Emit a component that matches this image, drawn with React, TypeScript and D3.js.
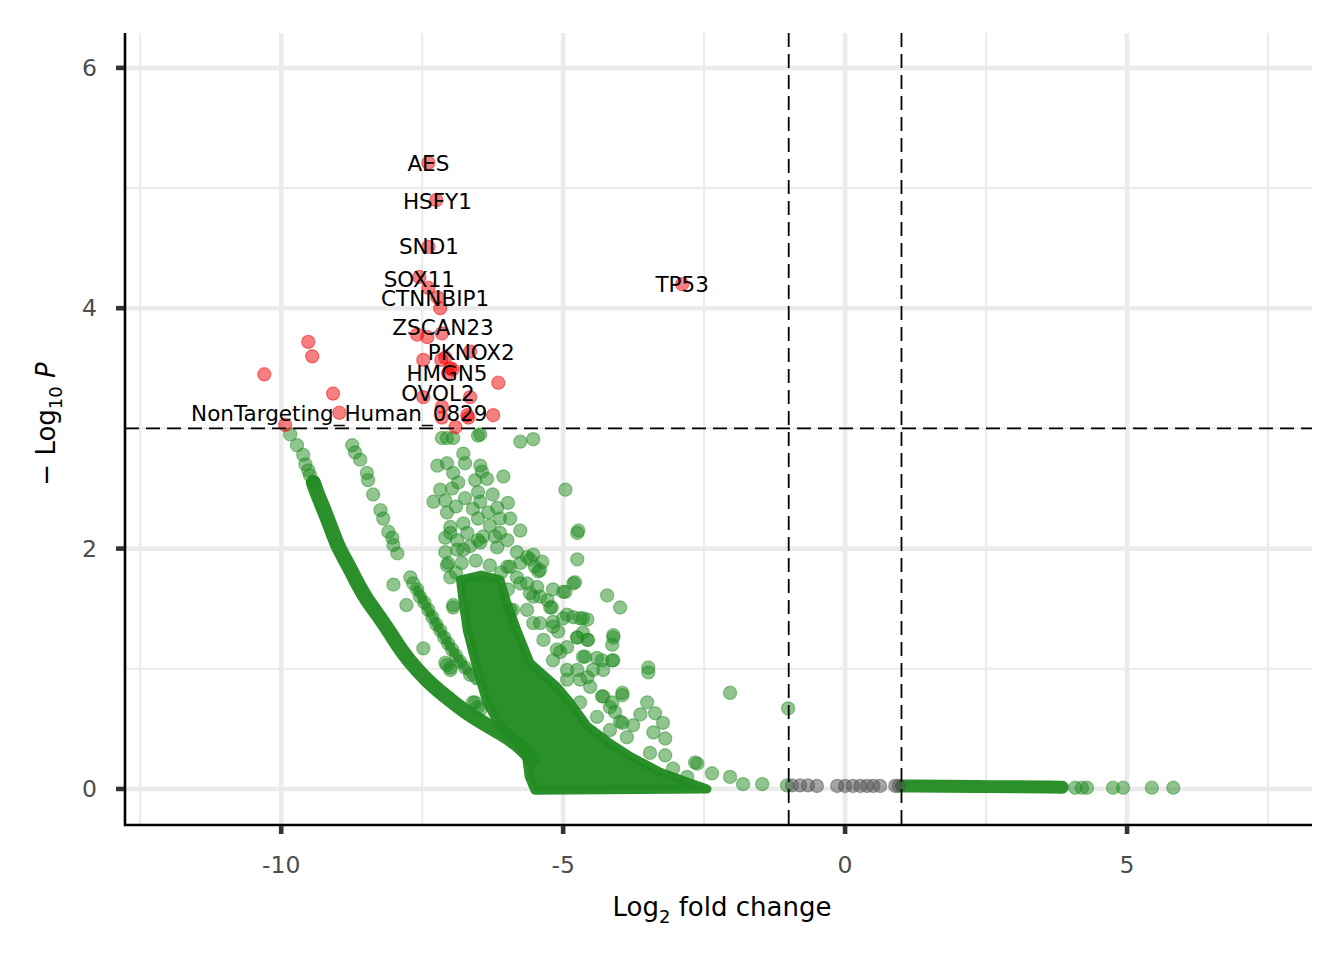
import React from "react";
import * as d3 from "d3";

// axis limits and ticks (log2 fold change / -log10 p)
const xLimits = [-12.77, 8.28];
const yLimits = [-0.3, 6.29];
const xTicks = [-10, -5, 0, 5];
const xMinor = [-12.5, -7.5, -2.5, 2.5, 7.5];
const yTicks = [0, 2, 4, 6];
const yMinor = [1, 3, 5];
const fcCutoff = 1;
const pCutoff = 3;

// significant (p and fold change) - red
const sigPoints: [number, number][] = [
  [-7.39, 5.21], [-7.25, 4.9], [-7.39, 4.51], [-7.55, 4.26], [-7.39, 4.17],
  [-7.23, 4.09], [-7.18, 4.0], [-7.59, 3.78], [-7.41, 3.76], [-7.15, 3.79],
  [-6.65, 3.64], [-7.48, 3.57], [-7.16, 3.57], [-7.09, 3.59], [-7.0, 3.5],
  [-7.04, 3.46], [-6.96, 3.49], [-6.15, 3.38], [-7.48, 3.26], [-6.65, 3.26],
  [-7.15, 3.18], [-6.7, 3.11], [-6.68, 3.09], [-6.24, 3.11], [-7.15, 3.09],
  [-6.91, 3.01], [-9.52, 3.72], [-9.45, 3.6], [-10.3, 3.45], [-9.08, 3.29],
  [-8.97, 3.13], [-9.93, 3.03], [-2.89, 4.2],
];

// labelled genes (text position)
const labels = [
  { gene: "AES", x: -7.39, y: 5.2 },
  { gene: "HSFY1", x: -7.23, y: 4.89 },
  { gene: "SND1", x: -7.38, y: 4.51 },
  { gene: "SOX11", x: -7.55, y: 4.24 },
  { gene: "CTNNBIP1", x: -7.27, y: 4.08 },
  { gene: "ZSCAN23", x: -7.13, y: 3.84 },
  { gene: "PKNOX2", x: -6.63, y: 3.63 },
  { gene: "HMGN5", x: -7.06, y: 3.46 },
  { gene: "OVOL2", x: -7.22, y: 3.29 },
  { gene: "NonTargeting_Human_0829", x: -8.97, y: 3.12 },
  { gene: "TP53", x: -2.89, y: 4.2 },
];

// fold change only - green
const fcPoints: [number, number][] = [
  // top of the outer curve
  [-9.84, 2.95], [-9.72, 2.86], [-9.61, 2.78], [-9.57, 2.7], [-9.52, 2.65],
  [-9.49, 2.61], [-9.43, 2.55],
  // second streak
  [-8.74, 2.86], [-8.69, 2.8], [-8.6, 2.74], [-8.48, 2.63], [-8.46, 2.57],
  [-8.37, 2.45], [-8.24, 2.32], [-8.19, 2.25], [-8.1, 2.14], [-8.03, 2.09],
  [-8.01, 2.03], [-7.94, 1.96], [-7.71, 1.76], [-7.66, 1.71], [-7.59, 1.66],
  [-7.54, 1.6], [-7.46, 1.55], [-7.39, 1.49], [-7.32, 1.43], [-7.25, 1.37],
  [-7.18, 1.32], [-7.11, 1.26], [-7.04, 1.21], [-6.97, 1.16], [-6.9, 1.11],
  [-6.83, 1.06], [-6.74, 1.01], [-6.65, 0.95],
  [-8.01, 1.7], [-7.78, 1.53], [-7.48, 1.17], [-7.06, 1.03], [-7.0, 1.01],
  [-6.56, 0.72], [-6.52, 0.68], [-7.09, 1.05], [-7.0, 0.99], [-6.6, 0.72],
  [-6.47, 0.66],
  // scatter round the dense core
  [-7.15, 2.92], [-7.06, 2.92], [-6.95, 2.92], [-6.51, 2.94], [-6.47, 2.95],
  [-5.76, 2.89], [-5.53, 2.91], [-6.77, 2.79], [-6.74, 2.71], [-7.23, 2.69],
  [-7.06, 2.71], [-6.47, 2.69], [-6.95, 2.63], [-6.44, 2.64], [-6.56, 2.57],
  [-6.35, 2.58], [-6.06, 2.6], [-7.18, 2.49], [-6.97, 2.5], [-6.86, 2.55],
  [-7.3, 2.39], [-7.09, 2.4], [-6.74, 2.42], [-6.51, 2.47], [-6.47, 2.39],
  [-4.96, 2.49], [-6.17, 2.34], [-5.98, 2.38], [-5.94, 2.25], [-7.06, 2.3],
  [-6.51, 2.25], [-6.33, 2.3], [-7.0, 2.18], [-6.77, 2.21], [-6.12, 2.25],
  [-5.76, 2.15], [-4.73, 2.15], [-7.09, 2.09], [-6.88, 2.07], [-6.51, 2.07],
  [-6.21, 2.1], [-7.09, 1.97], [-6.88, 1.99], [-6.17, 2.01], [-5.82, 1.97],
  [-5.64, 1.93], [-5.53, 1.95], [-5.37, 1.89], [-4.75, 1.91], [-7.06, 1.86],
  [-5.99, 1.85], [-5.76, 1.88], [-5.5, 1.85], [-5.44, 1.81], [-7.0, 1.76],
  [-5.82, 1.76], [-5.64, 1.71], [-5.46, 1.68], [-5.18, 1.66], [-4.96, 1.64],
  [-4.79, 1.72], [-4.82, 1.71], [-5.98, 1.66], [-5.53, 1.6], [-5.28, 1.57],
  [-5.2, 1.51], [-4.22, 1.61], [-3.99, 1.51], [-6.95, 1.53], [-5.94, 1.49],
  [-5.41, 1.38], [-5.18, 1.39], [-4.93, 1.45], [-4.7, 1.42], [-4.57, 1.41],
  [-5.09, 1.31], [-4.75, 1.26], [-4.65, 1.3], [-4.56, 1.24], [-4.11, 1.26],
  [-4.13, 1.2], [-4.93, 1.18], [-5.05, 1.14], [-4.61, 1.1], [-4.31, 1.07],
  [-4.11, 1.07], [-3.49, 1.01], [-3.49, 0.97], [-4.93, 0.99], [-4.47, 0.99],
  [-4.29, 0.99], [-4.7, 0.91], [-4.52, 0.85], [-4.31, 0.77], [-3.95, 0.78],
  [-4.17, 0.68], [-3.51, 0.72], [-3.37, 0.63], [-3.63, 0.62], [-3.23, 0.55],
  [-3.76, 0.53], [-3.99, 0.56], [-3.4, 0.47], [-3.19, 0.42], [-3.46, 0.3],
  [-3.19, 0.28], [-3.87, 0.43], [-3.05, 0.17], [-2.66, 0.22], [-2.8, 0.1],
  [-7.04, 1.88], [-6.95, 1.51], [-6.77, 1.99], [-6.47, 2.05], [-5.94, 1.85],
  [-5.59, 1.91], [-5.41, 1.82], [-5.76, 1.71], [-5.59, 1.63], [-5.41, 1.6],
  [-5.23, 1.51], [-5.89, 1.49], [-5.64, 1.49], [-5.53, 1.38], [-5.0, 1.64],
  [-4.75, 2.13], [-5.0, 1.42], [-4.82, 1.43], [-4.65, 1.42], [-5.18, 1.35],
  [-5.35, 1.24], [-5.11, 1.16], [-4.75, 1.26], [-4.57, 1.24], [-4.11, 1.28],
  [-5.18, 1.07], [-4.65, 1.1], [-4.4, 1.09], [-4.13, 1.07], [-4.75, 0.99],
  [-4.57, 0.93], [-4.93, 0.91], [-4.29, 0.77], [-3.95, 0.8], [-4.7, 0.72],
  [-4.13, 0.72], [-4.4, 0.6], [-4.08, 0.64], [-3.95, 0.55], [-4.17, 0.49],
  [-6.42, 2.1], [-5.99, 2.07], [-6.12, 2.13], [-7.0, 2.13], [-6.7, 2.13],
  [-6.3, 2.19], [-6.6, 2.33], [-6.25, 2.45], [-6.9, 2.35], [-6.65, 2.02],
  [-6.8, 1.88], [-6.55, 1.9], [-6.3, 1.86], [-6.1, 1.8], [-6.9, 1.8],
  // along the baseline
  [-2.04, 0.8], [-1.01, 0.67], [-2.62, 0.21], [-2.36, 0.13], [-2.04, 0.1],
  [-1.81, 0.04], [-1.47, 0.04], [-1.03, 0.03],
  [4.08, 0.01], [4.2, 0.01], [4.29, 0.01], [4.75, 0.01], [4.93, 0.01],
  [5.44, 0.01], [5.82, 0.01],
];

// not significant - grey
const nsPoints: [number, number][] = [
  [-0.94, 0.03], [-0.8, 0.03], [-0.66, 0.03], [-0.5, 0.025], [-0.14, 0.025],
  [0.0, 0.025], [0.14, 0.025], [0.27, 0.025], [0.39, 0.025], [0.5, 0.025],
  [0.62, 0.025], [0.89, 0.025], [0.95, 0.025],
];

// regions where the green points overlap into a solid mass
const denseCore: [number, number][] = [
  [-6.82, 1.74], [-6.45, 1.78], [-6.12, 1.74], [-6.0, 1.55], [-5.82, 1.32],
  [-5.59, 1.05], [-5.11, 0.85], [-4.88, 0.72], [-4.57, 0.52], [-4.17, 0.38],
  [-3.81, 0.27], [-3.28, 0.14], [-2.75, 0.05], [-2.45, 0.0], [-5.5, -0.01],
  [-5.6, 0.1], [-5.66, 0.3], [-6.12, 0.52], [-6.35, 0.72], [-6.52, 0.99],
  [-6.7, 1.32], [-6.77, 1.55],
];
const denseBands: [number, number][][] = [
  [
    [-9.43, 2.55], [-9.34, 2.43], [-9.22, 2.3], [-9.1, 2.15], [-8.99, 2.01],
    [-8.83, 1.88], [-8.65, 1.71], [-8.48, 1.57], [-8.3, 1.46], [-8.07, 1.3],
    [-7.84, 1.13], [-7.59, 0.99], [-7.3, 0.85], [-7.0, 0.74], [-6.7, 0.63],
    [-6.42, 0.55], [-6.12, 0.47], [-5.82, 0.38], [-5.55, 0.25],
  ],
  [
    [-7.59, 1.66], [-7.46, 1.55], [-7.32, 1.43], [-7.18, 1.32],
    [-7.04, 1.21], [-6.9, 1.11], [-6.74, 1.01], [-6.55, 0.9],
  ],
  [[1.0, 0.025], [2.3, 0.02], [3.85, 0.015]],
];
const bandWidths = [15, 9, 13];
const bandOpacity = [0.96, 0.7, 0.96];

const W = 1344;
const H = 960;
const M = { left: 125, right: 1312, top: 33, bottom: 825 };
const FONT = "DejaVu Sans, sans-serif";
const GREEN = "#228B22";
const RED = "#EE0000";
const GREY = "#4D4D4D";
const R = 6.6;

export default function App() {
  const x = d3.scaleLinear().domain(xLimits).range([M.left, M.right]);
  const y = d3.scaleLinear().domain(yLimits).range([M.bottom, M.top]);
  const line = d3
    .line<[number, number]>()
    .x((d) => x(d[0]))
    .y((d) => y(d[1]))
    .curve(d3.curveBasis);
  const poly = d3
    .line<[number, number]>()
    .x((d) => x(d[0]))
    .y((d) => y(d[1]))
    .curve(d3.curveLinearClosed);

  const dot = (d: [number, number], i: number, col: string) => (
    <circle
      key={i}
      cx={x(d[0])}
      cy={y(d[1])}
      r={R}
      fill={col}
      fillOpacity={0.5}
      stroke={col}
      strokeOpacity={0.45}
      strokeWidth={1.2}
    />
  );

  return (
    <svg
      width={W}
      height={H}
      style={{ position: "absolute", left: 0, top: 0, background: "#fff" }}
      fontFamily={FONT}
    >
      <defs>
        <clipPath id="panel">
          <rect x={M.left} y={M.top} width={M.right - M.left} height={M.bottom - M.top} />
        </clipPath>
      </defs>
      {/* grid */}
      <g stroke="#EBEBEB">
        {xMinor.map((t) => (
          <line key={"xm" + t} x1={x(t)} x2={x(t)} y1={M.top} y2={M.bottom} strokeWidth={2.2} />
        ))}
        {yMinor.map((t) => (
          <line key={"ym" + t} y1={y(t)} y2={y(t)} x1={M.left} x2={M.right} strokeWidth={2.2} />
        ))}
        {xTicks.map((t) => (
          <line key={"x" + t} x1={x(t)} x2={x(t)} y1={M.top} y2={M.bottom} strokeWidth={4.6} />
        ))}
        {yTicks.map((t) => (
          <line key={"y" + t} y1={y(t)} y2={y(t)} x1={M.left} x2={M.right} strokeWidth={4.6} />
        ))}
      </g>

      <g clipPath="url(#panel)">
        {/* dense masses */}
        <path
          d={poly(denseCore) ?? ""}
          fill={GREEN}
          fillOpacity={0.96}
          stroke={GREEN}
          strokeOpacity={0.96}
          strokeWidth={9}
          strokeLinejoin="round"
        />
        {denseBands.map((b, i) => (
          <path
            key={i}
            d={line(b) ?? ""}
            fill="none"
            stroke={GREEN}
            strokeOpacity={bandOpacity[i]}
            strokeWidth={bandWidths[i]}
            strokeLinecap="round"
          />
        ))}
        {fcPoints.map((d, i) => dot(d, i, GREEN))}
        {nsPoints.map((d, i) => dot(d, i, GREY))}
        {sigPoints.map((d, i) => dot(d, i, RED))}

        {/* cutoffs */}
        <g stroke="#000" strokeWidth={1.8} strokeDasharray="14,7">
          <line x1={x(-fcCutoff)} x2={x(-fcCutoff)} y1={M.top} y2={M.bottom} />
          <line x1={x(fcCutoff)} x2={x(fcCutoff)} y1={M.top} y2={M.bottom} />
          <line x1={M.left} x2={M.right} y1={y(pCutoff)} y2={y(pCutoff)} />
        </g>

        {labels.map((l) => (
          <text
            key={l.gene}
            x={x(l.x)}
            y={y(l.y)}
            textAnchor="middle"
            dominantBaseline="central"
            fontSize={21.5}
            fill="#000"
          >
            {l.gene}
          </text>
        ))}
      </g>

      {/* axes */}
      <line x1={M.left} x2={M.left} y1={M.top} y2={M.bottom + 1} stroke="#000" strokeWidth={2.6} />
      <line x1={M.left - 1} x2={M.right} y1={M.bottom} y2={M.bottom} stroke="#000" strokeWidth={2.6} />
      {xTicks.map((t) => (
        <g key={"xt" + t}>
          <line x1={x(t)} x2={x(t)} y1={M.bottom + 1} y2={M.bottom + 9} stroke="#333" strokeWidth={4.6} />
          <text x={x(t)} y={M.bottom + 48} textAnchor="middle" fontSize={23.5} fill="#4D4D4D">
            {t < 0 ? "-" + Math.abs(t) : t}
          </text>
        </g>
      ))}
      {yTicks.map((t) => (
        <g key={"yt" + t}>
          <line x1={M.left - 9} x2={M.left - 1} y1={y(t)} y2={y(t)} stroke="#333" strokeWidth={4.6} />
          <text
            x={M.left - 28}
            y={y(t)}
            textAnchor="end"
            dominantBaseline="central"
            fontSize={23.5}
            fill="#4D4D4D"
          >
            {t}
          </text>
        </g>
      ))}

      {/* titles */}
      <text x={722} y={916} textAnchor="middle" fontSize={26} fill="#000">
        Log
        <tspan fontSize={18} dy={7}>2</tspan>
        <tspan dy={-7}> fold change</tspan>
      </text>
      <text
        transform={`translate(55,424) rotate(-90)`}
        textAnchor="middle"
        fontSize={26}
        fill="#000"
      >
        {"\u2212 Log"}
        <tspan fontSize={18} dy={7}>10</tspan>
        <tspan dy={-7}> </tspan>
        <tspan fontStyle="italic">P</tspan>
      </text>
    </svg>
  );
}
